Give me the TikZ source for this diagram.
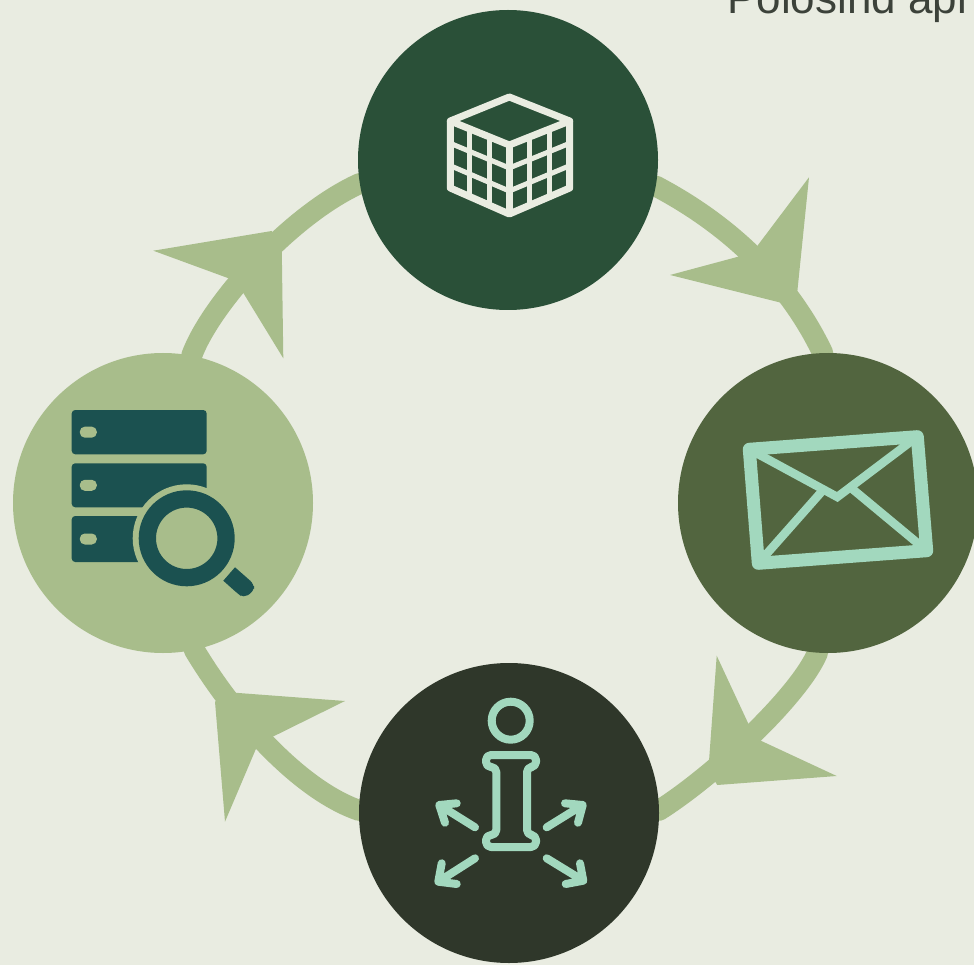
\documentclass[tikz,border=0pt]{standalone}
\usepackage{fontspec}
\setmainfont{Liberation Sans}
\definecolor{bgc}{HTML}{E9ECE1}
\definecolor{topc}{HTML}{2A5038}
\definecolor{rightc}{HTML}{52653F}
\definecolor{leftc}{HTML}{A8BD8B}
\definecolor{botc}{HTML}{2F372A}
\definecolor{mintc}{HTML}{A2D8BE}
\definecolor{tealc}{HTML}{1B5150}
\definecolor{textc}{HTML}{3C423A}
\pgfdeclarelayer{under}
\pgfsetlayers{under,main}
\tikzset{
  hub/.style={circle,minimum size=300pt,inner sep=0pt,outer sep=0pt,draw=none},
  ringline/.style={draw=leftc,line width=21pt,line cap=round},
  barb/.style={fill=leftc,draw=none},
  cubeo/.style={draw=bgc,line width=7pt,line join=round},
  cubeg/.style={draw=bgc,line width=5pt},
  infol/.style={draw=mintc,line width=8pt,line cap=round,line join=round},
  maillo/.style={draw=mintc,line width=13pt,line join=round},
  mailli/.style={draw=mintc,line width=8.5pt,line cap=butt,line join=miter},
}
\begin{document}
\begin{tikzpicture}[x=1pt,y=-1pt]
\useasboundingbox (0,0) rectangle (974,965);
\clip (0,0) rectangle (974,965);
\begin{pgfonlayer}{under}
\fill[bgc] (0,0) rectangle (974,965);
\end{pgfonlayer}
\node[anchor=base west,inner sep=0pt,font=\fontsize{44}{44}\selectfont,text=textc] (caption) at (727,14) {Polosind api};
% hubs
\node[hub,fill=topc] (top) at (508,160) {};
\node[hub,fill=rightc] (right) at (828,503) {};
\node[hub,fill=leftc] (left) at (163,503) {};
\node[hub,fill=botc] (bot) at (509,813) {};
% ring connectors
\begin{pgfonlayer}{under}
\draw[ringline] (top.-10.2) .. controls (728,224) and (788,280) .. (right.92.4);
\draw[ringline] (right.-94.3) .. controls (800,695) and (715,775) .. (bot.1);
\draw[ringline] (bot.179) .. controls (300,790) and (235,718) .. (left.-78.4);
\draw[ringline] (left.79.7) .. controls (210,305) and (290,215) .. (top.189.6);
\end{pgfonlayer}
% arrowheads
\fill[barb] (809,177.3) -- (797.3,291.7) -- (783.3,303.3) -- (670,275) -- (752,253) -- cycle;
\fill[barb] (716.7,655.7) -- (755,738) -- (836.7,776) -- (717.3,785) -- (708.3,770.7) -- cycle;
\fill[barb] (345,701) -- (229.3,692.3) -- (215,701.7) -- (225,821.7) -- (258,744) -- cycle;
\fill[barb] (153.3,250.7) -- (271.7,231) -- (281.7,244) -- (283.3,358.3) -- (236,281) -- cycle;
% cube icon
\draw[cubeo] (509.3,97) -- (569.7,121) -- (509.3,145) -- (450.3,121) -- cycle;
\draw[cubeo] (450.3,121) -- (450.3,188) -- (509.3,214) -- (569.7,188) -- (569.7,121);
\draw[cubeo] (509.3,145) -- (509.3,214);
\foreach \t in {0.333,0.667}{
  \draw[cubeg] (450.3,121+67*\t) -- (509.3,145+69*\t) -- (569.7,121+67*\t);
  \draw[cubeg] (450.3+59*\t,121+24*\t) -- (450.3+59*\t,188+26*\t);
  \draw[cubeg] (509.3+60.4*\t,145-24*\t) -- (509.3+60.4*\t,214-26*\t);
}
% mail icon
\draw[maillo] (749.3,449.3) -- (917.3,436.7) -- (926.7,550.7) -- (758.3,563.3) -- cycle;
\draw[mailli] (749.3,449.3) -- (837.3,497) -- (917.3,436.7);
\draw[mailli] (758.3,563.3) -- (824,489);
\draw[mailli] (926.7,550.7) -- (850,487);
% server icon
\foreach \ya/\yb in {410/454.3,463.3/507.3,516/562}{
  \fill[tealc,rounded corners=3.5pt] (71.7,\ya) rectangle (206.7,\yb);
  \fill[leftc,rounded corners=5pt] (79.8,{(\ya+\yb)/2-5.5}) rectangle (96.8,{(\ya+\yb)/2+5.5});
}
\fill[leftc] (186.7,538.3) circle[radius=54];
\fill[tealc,even odd rule] (186.7,538.3) circle[radius=48] (186.7,538.3) circle[radius=30.7];
\fill[tealc] (223.3,580.7) -- (235,567.3) [rounded corners=5pt] -- (254,584) -- (254,591) -- (243.5,598) -- (237,593) [sharp corners] -- cycle;
% info icon
\draw[infol] (510.7,720.7) circle[radius=19];
\draw[infol,rounded corners=5pt] (496.3,800) -- (496.3,767) -- (486,767) -- (486,755) -- (536,755) -- (536,767) -- (527,767) -- (527,835) -- (536,835) -- (536,847) -- (486,847) -- (486,835) -- (496.3,835) -- cycle;
\draw[infol] (475,827.3) -- (439.3,805) (456.7,803.3) -- (439.3,805) -- (445,822.7);
\draw[infol] (546.7,827.3) -- (582.7,805) (565,803.3) -- (582.7,805) -- (578,822.7);
\draw[infol] (475,858.3) -- (438.3,881.7) (441.7,863.3) -- (438.3,881.7) -- (456.7,884);
\draw[infol] (546.7,858.3) -- (583.3,880.7) (580,863.3) -- (583.3,880.7) -- (565.7,884);
\end{tikzpicture}
\end{document}
